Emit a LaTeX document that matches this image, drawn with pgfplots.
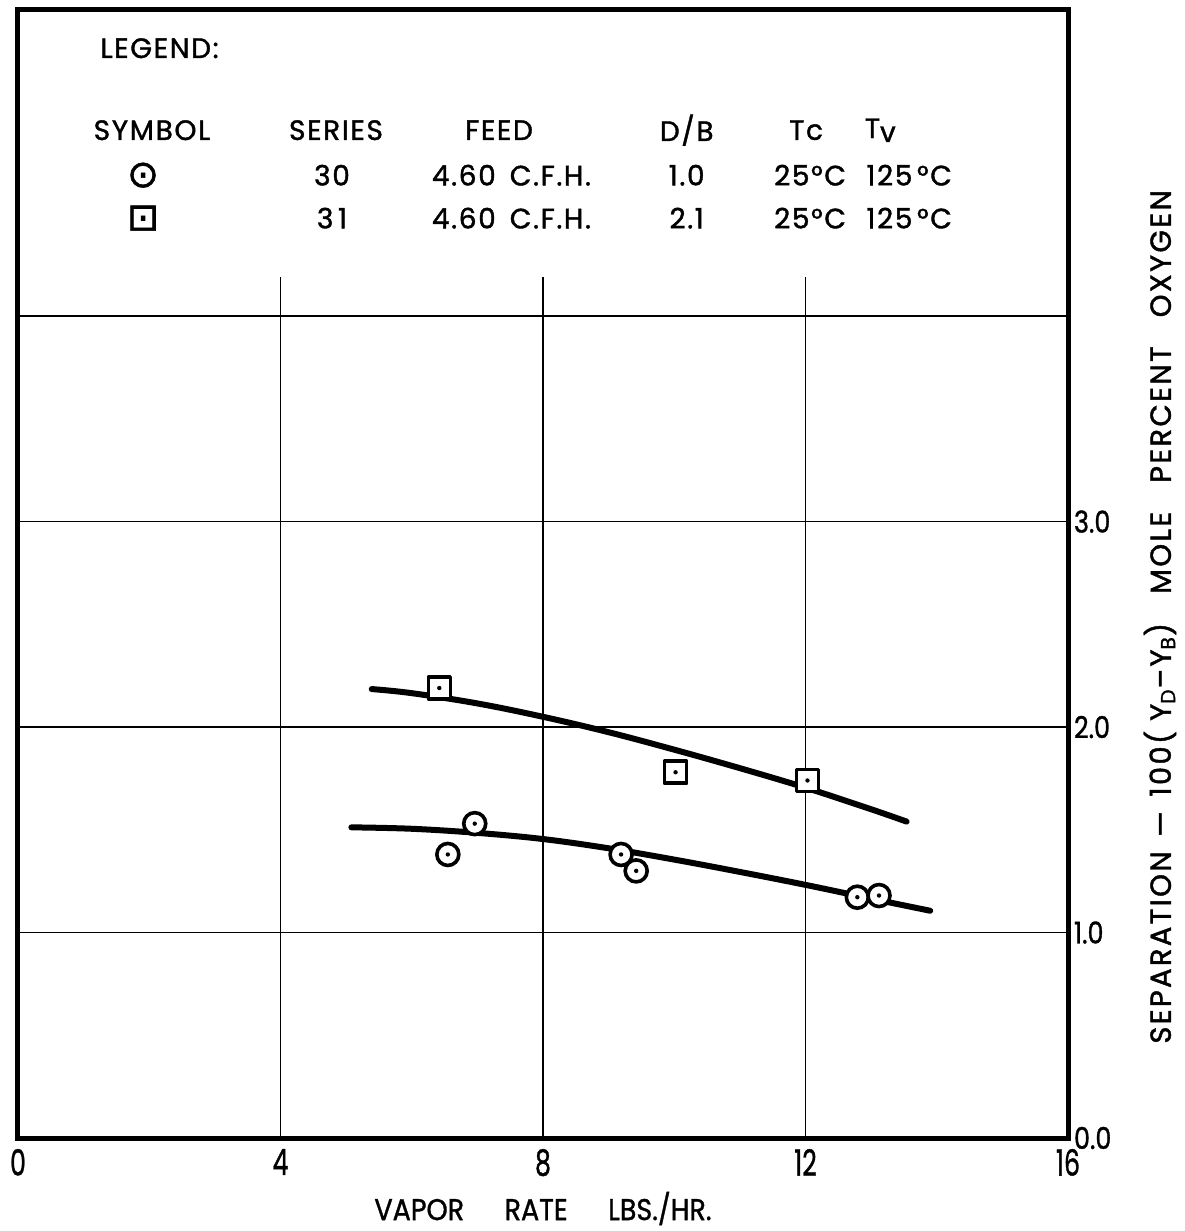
\documentclass[border=0pt]{standalone}
\usepackage{pgfplots}
\pgfplotsset{compat=1.18}
\usepackage{fontspec}
\setmainfont{Poppins}[FakeBold=1.2]
\newfontfamily\symfont{DejaVu Sans}[FakeBold=1.5]
\newfontfamily\spaced{Poppins}[LetterSpace=8,FakeBold=1.5]
\newfontfamily\legfont{Poppins}[LetterSpace=6,FakeBold=1.4]

\pgfdeclareplotmark{codot}{%
  \pgfpathcircle{\pgfpointorigin}{\pgfplotmarksize}%
  \pgfsetfillcolor{white}\pgfusepathqfillstroke
  \pgfsetfillcolor{black}%
  \pgfpathcircle{\pgfpointorigin}{0.2\pgfplotmarksize}\pgfusepathqfill}
\pgfdeclareplotmark{sqdot}{%
  \pgfpathrectangle{\pgfpoint{-\pgfplotmarksize}{-\pgfplotmarksize}}{\pgfpoint{2\pgfplotmarksize}{2\pgfplotmarksize}}%
  \pgfsetfillcolor{white}\pgfusepathqfillstroke
  \pgfsetfillcolor{black}%
  \pgfpathcircle{\pgfpointorigin}{0.2\pgfplotmarksize}\pgfusepathqfill}

\begin{document}
\begin{tikzpicture}
\begin{axis}[
  scale only axis, width=525pt, height=564pt,
  xmin=0, xmax=16, ymin=0, ymax=5.49,
  clip=false,
  axis line style={line width=2.5pt},
  xtick={0,4,8,12,16},
  ytick={0,1,2,3,4}, yticklabels={0.0,1.0,2.0,3.0,{}},
  yticklabel pos=right,
  ymajorgrids, grid style={line width=0.75pt, black},
  major tick length=0pt,
  /pgf/number format/assume math mode=true,
  xticklabel style={font=\fontsize{18}{18}\selectfont, xscale=0.7, yshift=-2pt},
  yticklabel style={font=\fontsize{15}{15}\selectfont, xscale=0.85},
  xlabel={VAPOR\quad\enspace RATE\quad\enspace LBS./HR.},
  xlabel style={font=\fontsize{15}{15}\selectfont, xscale=0.9, at={(rel axis cs:0.5,-0.0625)}, anchor=center},
  ylabel={\spaced SEPARATION\enspace —\enspace 100( Y$_{\mathrm{D}}$–Y$_{\mathrm{B}}$)\quad MOLE\quad PERCENT\quad OXYGEN},
  ylabel style={font=\fontsize{14.5}{14.5}\selectfont, at={(rel axis cs:1.0876,0.462)}, anchor=center},
]
% vertical grid lines (stop below the legend)
\draw[line width=0.75pt] (axis cs:4,0) -- (axis cs:4,4.19);
\draw[line width=0.75pt] (axis cs:8,0) -- (axis cs:8,4.19);
\draw[line width=0.75pt] (axis cs:12,0) -- (axis cs:12,4.19);

% fitted curves
\addplot[line width=3pt, line cap=round, smooth, tension=0.6] coordinates {
  (5.39,2.185) (6,2.165) (7,2.115) (8,2.05) (9,1.975) (10,1.89) (11,1.80) (12,1.705) (13,1.60) (13.54,1.54)};
\addplot[line width=3pt, line cap=round, smooth, tension=0.6] coordinates {
  (5.08,1.512) (6,1.505) (7,1.485) (8,1.455) (9,1.41) (10,1.355) (11,1.295) (12,1.232) (13,1.165) (13.9,1.106)};

% series 31 (squares)
\addplot[only marks, mark=sqdot, mark size=5.5pt, mark options={line width=1.8pt, line join=round}] coordinates {
  (6.42,2.19) (10.02,1.78) (12.03,1.74)};
% series 30 (circles)
\addplot[only marks, mark=codot, mark size=5.5pt, mark options={line width=1.8pt}] coordinates {
  (6.55,1.38) (6.96,1.53) (9.19,1.38) (9.42,1.30) (12.79,1.172) (13.12,1.18)};

% legend text
\begin{scope}[font=\legfont\fontsize{14}{16}\selectfont]
\node[anchor=west] at (axis cs:1.15,5.304) {LEGEND:};
\node at (axis cs:2.042,4.905) {SYMBOL};
\node at (axis cs:4.846,4.905) {SERIES};
\node at (axis cs:7.33,4.905) {FEED};
\node at (axis cs:10.19,4.905) {D/B};
\node at (axis cs:12.01,4.905) {Tc};
\node at (axis cs:13.14,4.905) {T\raisebox{-0.25ex}{v}};
\node at (axis cs:1.905,4.686) {\symfont\fontsize{19}{19}\selectfont ⊙};
\node at (axis cs:1.905,4.477) {\symfont\fontsize{19}{19}\selectfont ⊡};
\node at (axis cs:4.785,4.686) {30};
\node at (axis cs:4.785,4.477) {3\,1};
\node[anchor=west] at (axis cs:6.2,4.686) {4.60\enspace C.F.H.};
\node[anchor=west] at (axis cs:6.2,4.477) {4.60\enspace C.F.H.};
\node at (axis cs:10.19,4.686) {1.0};
\node at (axis cs:10.19,4.477) {2.1};
\node at (axis cs:12.07,4.686) {25°C};
\node at (axis cs:12.07,4.477) {25°C};
\node at (axis cs:13.58,4.686) {125\,°C};
\node at (axis cs:13.58,4.477) {125\,°C};
\end{scope}

\coordinate (bbsw) at (rel axis cs:-0.01714,-0.08245);
\coordinate (bbne) at (rel axis cs:1.1105,1.00887);
\end{axis}
\pgfresetboundingbox
\useasboundingbox (bbsw) rectangle (bbne);
\end{tikzpicture}
\end{document}
